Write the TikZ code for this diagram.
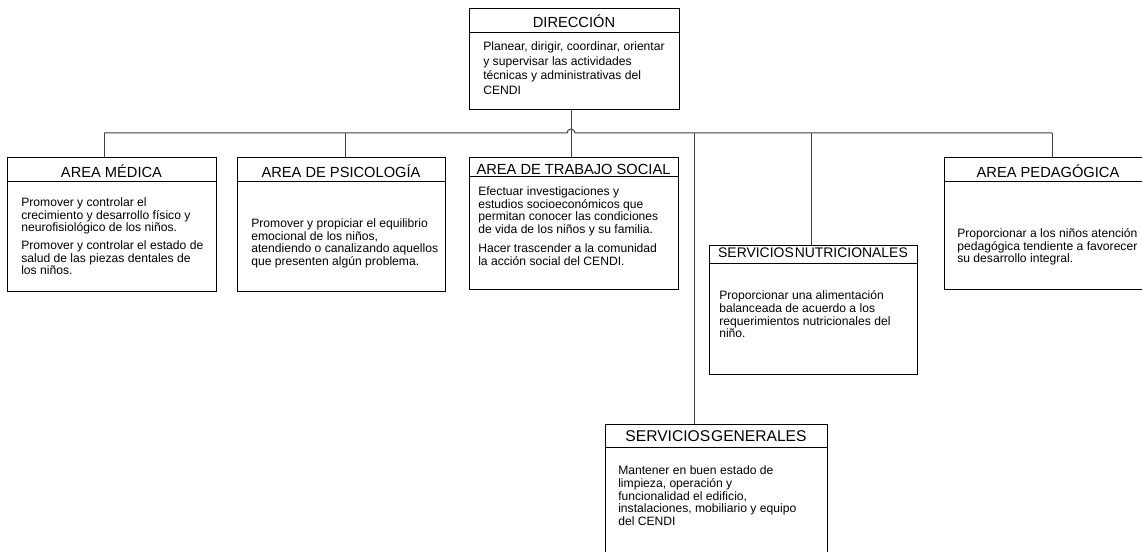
\documentclass[tikz,border=0pt]{standalone}
\usepackage{fontspec}
\setmainfont{Liberation Sans}
\tikzset{unitbox/.style={draw, line width=.75pt, anchor=north west, inner sep=0pt}}
\tikzset{unittitle/.style={inner sep=0pt}}
\tikzset{unittext/.style={anchor=north west, align=left, inner sep=0pt, font=\fontsize{9.1}{9.6}\selectfont}}
\tikzset{link/.style={draw=black!75, line width=.75pt}}
\newcommand{\firstln}{\rule{0pt}{8pt}}
\newcommand{\tightsp}{\hspace{.75pt}}

\begin{document}
\begin{tikzpicture}[x=.75pt,y=-.75pt]
  \useasboundingbox (0,0) rectangle (1142,552);
  % boxes with title bar
  \foreach \lab/\xl/\yt/\xr/\yb/\yd/\yh/\fs/\ttl in {
    dir/469/8/679/109/33/21.7/11/DIRECCIÓN,
    med/7/157/216/291/182/171.7/11/AREA MÉDICA,
    psi/237/157/445/291/182/171.7/11/AREA DE PSICOLOGÍA,
    ts/469/157/678/289/177/169.5/11/AREA DE TRABAJO SOCIAL,
    nut/709/245/917/374/264/253/10.45/SERVICIOS\tightsp NUTRICIONALES,
    gen/605/424/827/600/447/436/11.7/SERVICIOS\tightsp GENERALES,
    ped/944/157/1152/289/182/171.7/11/AREA PEDAGÓGICA%
  } {
    \node[unitbox, minimum width={(\xr-\xl)*.75pt}, minimum height={(\yb-\yt)*.75pt}] (\lab) at (\xl,\yt) {};
    \draw[line width=.75pt] (\lab.west |- 0,\yd) -- (\lab.east |- 0,\yd);
    \node[unittitle, font=\fontsize{\fs}{12}\selectfont] (\lab-ttl) at ({(\xl+\xr)/2},\yh) {\ttl};
  }

  \node[unittext, font=\fontsize{9.1}{11.1}\selectfont] (dir-txt) at (483,39.3) {\firstln Planear, dirigir, coordinar, orientar\\
    y supervisar las actividades\\
    técnicas y administrativas del\\
    CENDI};
  \node[unittext] (med-txt) at (21,195.3) {\firstln Promover y controlar el\\
    crecimiento y desarrollo físico y\\
    neurofisiológico de los niños.\\[3.5pt]
    Promover y controlar el estado de\\
    salud de las piezas dentales de\\
    los niños.};
  \node[unittext] (psi-txt) at (251,216.3) {\firstln Promover y propiciar el equilibrio\\
    emocional de los niños,\\
    atendiendo o canalizando aquellos\\
    que presenten algún problema.};
  \node[unittext] (ts-txt) at (478,184.3) {\firstln Efectuar investigaciones y\\
    estudios socioeconómicos que\\
    permitan conocer las condiciones\\
    de vida de los niños y su familia.\\[4.5pt]
    Hacer trascender a la comunidad\\
    la acción social del CENDI.};
  \node[unittext] (nut-txt) at (719,288.6) {\firstln Proporcionar una alimentación\\
    balanceada de acuerdo a los\\
    requerimientos nutricionales del\\
    niño.};
  \node[unittext] (gen-txt) at (618,463.6) {\firstln Mantener en buen estado de\\
    limpieza, operación y\\
    funcionalidad el edificio,\\
    instalaciones, mobiliario y equipo\\
    del CENDI};
  \node[unittext] (ped-txt) at (957,226.3) {\firstln Proporcionar a los niños atención\\
    pedagógica tendiente a favorecer\\
    su desarrollo integral.};

  % bus with line jump
  \coordinate (hub) at (571,133);
  \coordinate (hopw) at (567,133);
  \coordinate (busw) at (104,133);
  \coordinate (buse) at (1052,133);
  \draw[link] (busw) -- (hopw) arc[start angle=180, end angle=360, radius=4] -- (buse);
  \draw[link] (hub |- dir.south) -- (hub |- ts.north);
  \foreach \xd/\lab in {104/med, 345/psi, 694/gen, 811/nut, 1052/ped} {
    \coordinate (drop-\lab) at (\xd,133);
    \draw[link] (drop-\lab) -- (drop-\lab |- \lab.north);
  }
\end{tikzpicture}
\end{document}
